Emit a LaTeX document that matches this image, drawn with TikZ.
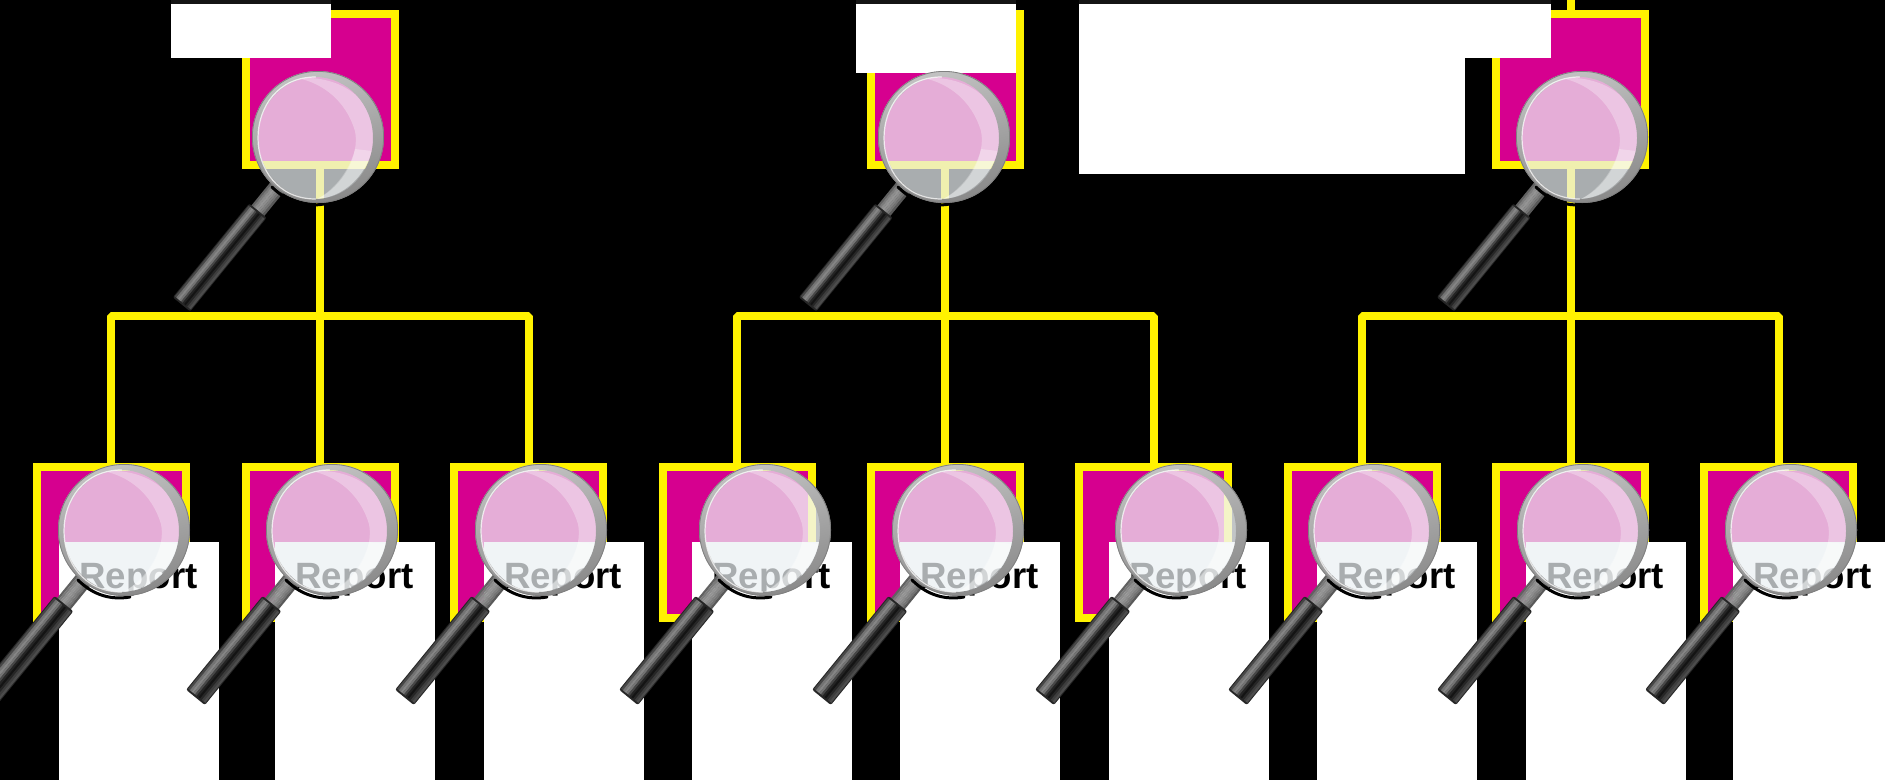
\documentclass[tikz,border=0pt]{standalone}
\usepackage{fontspec}
\setmainfont{Liberation Sans}
\definecolor{magentabox}{RGB}{214,0,143}
\definecolor{glass}{RGB}{235,240,243}
\definecolor{topstrip}{RGB}{20,20,20}
\tikzset{
  x=1pt,y=-1pt,
  wire/.style={draw=yellow,line width=8pt,line join=bevel},
  orgbox/.style={draw=yellow,fill=magentabox,line width=8pt,minimum width=149pt,minimum height=151pt,inner sep=0pt,outer sep=0pt},
  whitecard/.style={fill=white,inner sep=0pt,outer sep=0pt,anchor=north west},
  reporttext/.style={inner sep=0pt,outer sep=0pt,anchor=base,text=black,font=\fontsize{36.6}{40}\selectfont\bfseries},
  pics/lens/.style={code={
    % handle and collar
    \begin{scope}[rotate=230.8,yscale=#1]
      \foreach \o/\g in {7/62,5/52,3/45,1/42,-1/45,-3/50,-5/55,-7/65}{
        \draw[line width=2.3pt,black!\g] (62,\o) -- (98,\o);}
      \fill[black!85,rounded corners=2pt] (95,-11) rectangle (216,11);
      \foreach \o/\g in {9/72,7/55,5/48,3/55,1/72,-1/86,-3/92,-5/85,-7/76,-9/70}{
        \draw[line width=2.3pt,black!\g] (97,\o) -- (214,\o);}
    \end{scope}
    % contact shadow
    \draw[black,line width=3pt,line cap=round] (-46,50) .. controls (-30,66) and (-12,70) .. (6,67);
    % glass
    \fill[glass,fill opacity=.72] (0,0) circle[radius=65];
    % highlight crescent, fainter on the pink, stronger low down
    \fill[white,fill opacity=.30] (-21,-59) .. controls (5,-54) and (28,-36) .. (37,-6)
       .. controls (42,18) and (25,50) .. (-1,62)
       .. controls (30,60) and (56,30) .. (56,-2)
       .. controls (56,-36) and (25,-62) .. (-21,-59) -- cycle;
    \fill[white,fill opacity=.28] (37,12)
       .. controls (32,32) and (18,52) .. (-1,62)
       .. controls (26,60) and (46,40) .. (54,14) -- cycle;
    % rim
    \path[even odd rule,left color=black!24,right color=black!46,shading angle=15]
       (0,0) circle[radius=66] (-2.5,1) ellipse[x radius=57.5,y radius=61];
    \draw[black!50,line width=.8pt] (0,0) circle[radius=65.6];
    \draw[white,opacity=.75,line width=1.2pt,line cap=round] (-2.5,-60)
       .. controls (-40,-60) and (-60,-30) .. (-60,1)
       .. controls (-60,32) and (-40,62) .. (-2.5,62);
  }}
}
\begin{document}
\begin{tikzpicture}
\fill[black] (0,0) rectangle (1885,780);
\useasboundingbox (0,0) rectangle (1885,780);
\clip (0,0) rectangle (1885,780);
% boxes
\node[orgbox] (r1) at (320,89.75) {};
\node[orgbox] (r2) at (945,89.75) {};
\node[orgbox] (r3) at (1570.7,89.75) {};
\foreach \n/\x in {1/111,2/320,3/528.5,4/737,5/945,6/1153.5,7/1362,8/1570.7,9/1778.5}{
  \node[orgbox] (c\n) at (\x,542.5) {};
}
% connectors
\coordinate (j1) at (320,316);
\coordinate (j2) at (945,316);
\coordinate (j3) at (1570.7,316);
\coordinate (t3) at (1570.7,0);
\draw[wire] (r3.north) -- (t3);
\foreach \r/\a/\b/\m in {1/1/3/2,2/4/6/5,3/7/9/8}{
  \draw[wire] (r\r.south) -- (j\r);
  \draw[wire] (j\r) -- (c\m.north);
  \draw[wire] (c\a.north) |- (j\r) -| (c\b.north);
}
% white cards
\foreach \n/\x in {1/59,2/275,3/483.5,4/692,5/900,6/1108.5,7/1317,8/1525.5,9/1733}{
  \node[whitecard,minimum width=160pt,minimum height=238pt] (w\n) at (\x,542) {};
  \node[reporttext] (t\n) at (\x+79.5,588) {Report};
}
\fill[topstrip] (171,0) rectangle (331,4);
\fill[topstrip] (856,0) rectangle (1016,4);
\fill[topstrip] (1079,0) rectangle (1551,4);
\node[whitecard,minimum width=160pt,minimum height=54pt] (a1) at (171,4) {};
\node[whitecard,minimum width=160pt,minimum height=69pt] (a2) at (856,4) {};
\node[whitecard,minimum width=472pt,minimum height=54pt] (a3) at (1079,4) {};
\node[whitecard,minimum width=386pt,minimum height=170pt] (a4) at (1079,4) {};
% magnifiers
\foreach \x in {318,944,1582}{ \pic at (\x,137) {lens=1.02}; }
\foreach \x in {124,332,541,765,958,1181,1374,1583,1791}{ \pic at (\x,530) {lens=1.1}; }
\end{tikzpicture}
\end{document}
